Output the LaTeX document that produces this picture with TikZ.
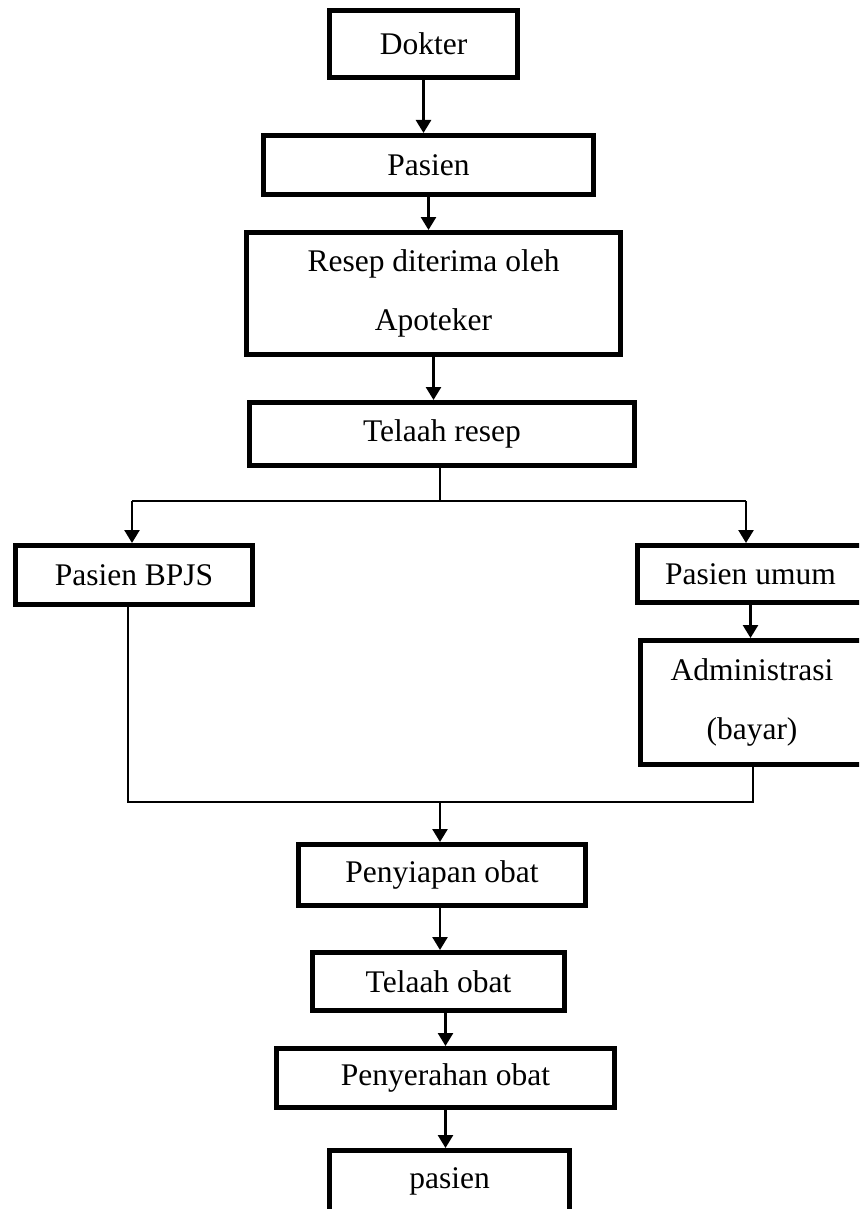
\documentclass[tikz,border=0pt]{standalone}
\usepackage{fontspec}
\setmainfont{Liberation Serif}
\usetikzlibrary{arrows.meta}
\begin{document}
\begin{tikzpicture}[x=1pt,y=-1pt,
  box/.style={draw, line width=5pt, inner sep=0pt, font=\fontsize{31.5}{59}\selectfont, align=center},
  conn/.style={line width=1.4pt},
  arr/.style={line width=2.6pt, -{Triangle[length=13pt,width=15pt]}}]
\clip (0,0) rectangle (859,1209);
\fill[white] (0,0) rectangle (859,1209);

\node[box, minimum width=188pt, minimum height=67pt] (dokter) at (423.5,44) {Dokter};
\node[box, minimum width=330pt, minimum height=59pt] (pasien) at (428.5,165) {Pasien};
\node[box, minimum width=374pt, minimum height=122pt] (resep) at (433.5,293.5) {Resep diterima oleh\\Apoteker};
\node[box, minimum width=385pt, minimum height=63pt] (telaah) at (442,434) {Telaah resep};
\node[box, minimum width=237pt, minimum height=59pt] (bpjs) at (134,575) {Pasien BPJS};
\node[box, minimum width=226pt, minimum height=57pt] (umum) at (750.5,574) {Pasien umum};
\node[box, minimum width=223pt, minimum height=124pt] (admin) at (752,702.5) {Administrasi\\(bayar)};
\node[box, minimum width=287pt, minimum height=61pt] (siap) at (442,875) {Penyiapan obat};
\node[box, minimum width=252pt, minimum height=58pt] (tobat) at (438.5,981.5) {Telaah obat};
\node[box, minimum width=338pt, minimum height=59pt] (serah) at (445.5,1078) {Penyerahan obat};
\node[box, minimum width=240pt, minimum height=61pt] (pasien2) at (449.5,1181) {pasien};

\draw[arr] (dokter.south) -- (dokter.south |- pasien.north);
\draw[arr] (pasien.south) -- (pasien.south |- resep.north);
\draw[arr] (resep.south) -- (resep.south |- telaah.north);

\coordinate (split) at (440,501);
\coordinate (sl) at (132,501);
\coordinate (sr) at (746,501);
\draw[conn] (telaah.south -| split) -- (split);
\draw[conn] (sl) -- (sr);
\draw[arr] (sl) -- (sl |- bpjs.north);
\draw[arr] (sr) -- (sr |- umum.north);
\draw[arr] (umum.south) -- (umum.south |- admin.north);

\coordinate (jl) at (128,802);
\coordinate (jr) at (753,802);
\coordinate (jm) at (440,802);
\draw[conn] (bpjs.south -| jl) -- (jl) -- (jr) -- (admin.south -| jr);
\draw[arr] (jm) -- (jm |- siap.north);

\draw[arr] (siap.south -| jm) -- (jm |- tobat.north);
\draw[arr] (serah.north |- tobat.south) -- (serah.north);
\draw[arr] (serah.south) -- (serah.south |- pasien2.north);
\end{tikzpicture}
\end{document}
